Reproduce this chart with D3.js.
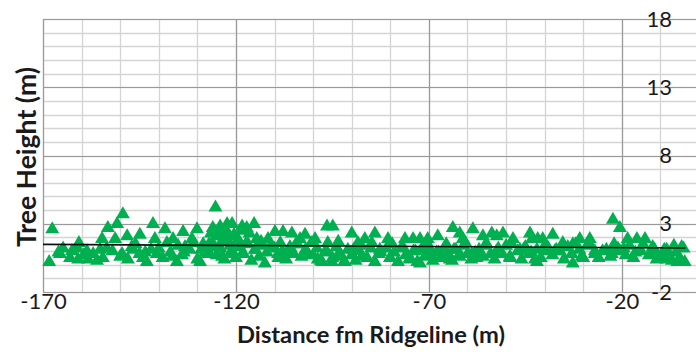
<!DOCTYPE html>
<html>
<head>
<meta charset="utf-8">
<script src="https://cdn.jsdelivr.net/npm/d3@7"></script>
<style>
  body { margin: 0; background: #fff; }
  svg text { font-family: Lato, "Open Sans", sans-serif; fill: #1a1a1a; }
</style>
</head>
<body>
<div id="chart"></div>
<script>
// tick labels
var xTicks = [-170, -120, -70, -20]
var yTicks = [-2, 3, 8, 13, 18]

// tree points (distance m, height m)
var distance = [
  -168.4, -167.6, -165.6, -164.8, -160.9, -160.7, -158.6, -158.3, -155.2, -154.7,
  -154.5, -153.2, -151.3, -150.8, -149.3, -148.2, -148.0, -146.7, -144.9, -144.1,
  -143.1, -141.5, -141.0, -140.5, -138.4, -137.9, -136.3, -135.3, -133.7, -133.2,
  -131.4, -130.1, -129.3, -128.5, -127.3,
  -125.3, -126.0, -124.1, -122.3, -121.0, -118.4, -117.2, -115.3, -126.2, -124.7,
  -122.8, -121.6, -119.5, -126.7, -123.6, -121.6, -118.4, -114.6, -115.1, -112.5,
  -111.7, -109.9, -107.8, -109.1, -105.5, -106.5, -103.4, -102.1, -101.3, -99.5,
  -98.8, -96.4, -94.9, -96.2, -93.8, -95.1, -91.8, -90.0, -88.4, -86.6,
  -84.8, -87.4, -97.7,
  -84.0, -80.6, -82.7, -80.1, -76.2, -74.1, -74.9, -72.3, -72.3, -70.3,
  -67.7, -69.7, -66.6, -64.6, -63.8, -62.0, -61.2, -62.0, -58.6, -58.9,
  -57.6, -56.0, -53.7, -52.4, -51.6, -50.8, -49.0, -48.2, -46.4, -43.8,
  -42.5, -41.8,
  -43.3, -42.0, -40.5, -39.9, -37.9, -37.4, -35.3, -32.7, -32.7, -30.9,
  -30.4, -28.3, -27.0, -22.3, -20.5, -22.6, -20.5, -18.5, -16.1, -14.0,
  -12.3, -11.0, -8.4, -8.4, -4.5, -5.6, -3.7,
  -166, -163, -161, -157, -156, -152, -150, -147, -145, -142,
  -139, -137, -135, -134, -132, -130, -128, -127, -125, -124,
  -123, -122, -121, -120, -119, -118, -117, -116, -115, -114,
  -113, -112, -110, -109, -108, -107, -106, -105, -104, -103,
  -102, -100, -99, -98, -97, -95, -94, -93, -92, -91,
  -90, -89, -88, -86, -85, -84, -83, -81, -80, -79,
  -78, -77, -76, -75, -74, -73, -72, -71, -70, -69,
  -68, -67, -66, -65, -64, -63, -62, -61, -60, -59,
  -57, -56, -55, -54, -53, -52, -51, -50, -49, -47,
  -46, -45, -44, -42, -41, -39, -38, -36, -35, -34,
  -33, -31, -30, -29, -27, -26, -24, -23, -21, -19,
  -18, -17, -15, -13, -12, -10, -9, -7, -6, -5, -4,
  -162.5, -159.5, -153.5, -149.5, -146, -143.5, -140, -136.5, -133.5, -131,
  -129, -126.5, -125.5, -124.5, -123.5, -122.5, -121.5, -120.5, -119.5, -118.5,
  -117.5, -116.5, -113.5, -111, -108.5, -104.5, -101.5, -100.5, -96.5, -93.5,
  -89.5, -87.5, -82.5, -79.5, -76.5, -73.5, -70.5, -67.5, -65.5, -63.5,
  -60.5, -58, -55.5, -52.5, -48.5, -45.5, -43.5, -40, -37, -32,
  -28.5, -25, -22, -19.5, -16.5, -14.5, -11.5, -8, -6.5
]
var height = [
  0.3, 2.7, 0.9, 1.3, 0.5, 1.7, 1.1, 0.5, 1.2, 2.0,
  0.6, 2.8, 2.0, 3.1, 3.8, 2.2, 0.5, 1.2, 2.3, 0.6,
  0.3, 3.1, 2.0, 0.9, 2.7, 1.7, 2.0, 0.3, 2.5, 1.4,
  2.0, 2.7, 0.3, 1.6, 0.9,
  4.3, 2.8, 2.9, 3.1, 3.1, 2.9, 2.8, 3.1, 1.7, 2.2,
  2.0, 2.2, 2.0, 0.9, 0.7, 0.9, 0.9, 2.0, 1.2, 0.2,
  2.0, 2.5, 2.5, 0.9, 2.4, 0.9, 2.0, 2.3, 0.9, 2.0,
  0.5, 2.9, 2.9, 1.7, 0.7, 0.3, 0.3, 2.4, 1.7, 2.0,
  1.7, 0.7, 0.3,
  2.4, 2.0, 1.2, 0.6, 2.0, 2.0, 0.6, 0.2, 2.0, 2.0,
  2.2, 0.9, 0.7, 0.5, 2.8, 2.4, 2.0, 0.9, 2.7, 0.9,
  0.6, 2.2, 2.4, 2.2, 0.9, 2.4, 0.6, 2.0, 1.2, 2.4,
  0.5, 2.0,
  2.0, 0.3, 2.0, 1.1, 2.3, 1.1, 1.7, 1.6, 0.2, 2.0,
  0.7, 2.0, 1.1, 3.4, 2.8, 0.9, 1.1, 2.0, 2.0, 2.0,
  0.9, 0.5, 1.2, 0.5, 1.4, 0.3, 0.3,
  1.0, 0.6, 1.3, 0.9, 0.4, 1.1, 0.7, 1.4, 0.9, 1.2,
  0.6, 1.0, 1.5, 0.8, 1.2, 0.5, 1.0, 1.6, 0.8, 1.3,
  0.5, 1.8, 1.0, 0.6, 1.4, 0.9, 1.7, 0.4, 1.2, 0.7,
  1.5, 1.0, 1.3, 0.6, 1.1, 0.5, 1.4, 0.9, 1.6, 0.7,
  1.2, 0.8, 1.3, 0.4, 1.0, 0.6, 1.4, 0.9, 0.3, 1.2,
  0.8, 0.4, 1.1, 0.6, 1.3, 0.3, 0.9, 1.3, 0.6, 1.0,
  0.3, 1.4, 0.8, 0.5, 1.1, 0.3, 1.2, 0.7, 1.4, 0.4,
  1.0, 0.6, 1.3, 0.9, 0.4, 1.2, 0.7, 1.5, 0.9, 0.5,
  1.2, 0.7, 1.6, 0.9, 0.5, 1.3, 0.9, 1.5, 0.7, 1.1,
  0.5, 1.4, 0.9, 1.2, 0.6, 1.3, 0.8, 1.1, 0.5, 1.4,
  0.9, 1.2, 0.6, 1.5, 0.9, 0.6, 1.2, 0.7, 1.3, 0.8,
  1.5, 0.6, 1.1, 0.8, 1.4, 0.7, 1.2, 0.4, 1.0, 0.6, 1.3,
  1.1, 0.8, 1.3, 0.9, 1.6, 1.0, 1.3, 0.7, 1.0, 1.7,
  1.2, 2.4, 1.4, 2.5, 1.9, 2.6, 1.5, 2.3, 1.8, 2.6,
  1.6, 2.4, 1.8, 1.5, 1.7, 1.6, 1.0, 1.7, 1.1, 1.8,
  1.2, 1.5, 1.0, 1.6, 1.3, 1.1, 1.7, 1.0, 1.6, 1.2,
  1.7, 1.0, 1.5, 1.1, 1.6, 1.2, 1.0, 1.5, 1.2, 1.6,
  1.7, 1.1, 1.6, 1.3, 1.0, 1.6, 1.2, 1.0, 1.5
]

// linear trend line end points
var trendX = [-170, -3.5]
var trendY = [1.49, 1.22]

var W = 696, H = 356
var margin = {top: 19, left: 43, bottom: 64}
var xMin = -170, xMax = 0, yMin = -2, yMax = 18

var svg = d3.select("#chart").append("svg")
    .attr("width", W)
    .attr("height", H)

var x = d3.scaleLinear().domain([xMin, xMax]).range([margin.left, 699])
var y = d3.scaleLinear().domain([yMin, yMax]).range([H - margin.bottom, margin.top])

// grid - minor lines every 10 m / 1 m, major at the labelled ticks
var minorX = d3.range(xMin, xMax + 1, 10)
var minorY = d3.range(yMin, yMax + 1, 1)

var grid = svg.append("g")
grid.selectAll(".mx").data(minorX).enter().append("line")
    .attr("x1", d => Math.round(x(d)) + 0.5).attr("x2", d => Math.round(x(d)) + 0.5)
    .attr("y1", y(yMin)).attr("y2", y(yMax))
    .style("stroke", "#d4d4d4").style("stroke-width", 1.3)
grid.selectAll(".my").data(minorY).enter().append("line")
    .attr("x1", x(xMin)).attr("x2", x(xMax))
    .attr("y1", d => Math.round(y(d)) + 0.5).attr("y2", d => Math.round(y(d)) + 0.5)
    .style("stroke", "#d4d4d4").style("stroke-width", 1.3)
grid.selectAll(".Mx").data(xTicks).enter().append("line")
    .attr("x1", d => Math.round(x(d)) + 0.5).attr("x2", d => Math.round(x(d)) + 0.5)
    .attr("y1", y(yMin)).attr("y2", y(yMax))
    .style("stroke", "#999").style("stroke-width", 1.2)
grid.selectAll(".My").data(yTicks).enter().append("line")
    .attr("x1", x(xMin)).attr("x2", x(xMax))
    .attr("y1", d => Math.round(y(d)) + 0.5).attr("y2", d => Math.round(y(d)) + 0.5)
    .style("stroke", "#999").style("stroke-width", 1.2)

// triangle markers
var tri = "M0,-6.5L7,5.5L-7,5.5Z"
svg.append("g").selectAll("path")
    .data(d3.zip(distance, height))
    .enter().append("path")
        .attr("d", tri)
        .attr("transform", d => "translate(" + x(d[0]) + "," + y(d[1]) + ")")
        .style("fill", "#00B050")

// trend line
svg.append("path")
    .datum(d3.zip(trendX, trendY))
    .attr("d", d3.line().x(d => x(d[0])).y(d => y(d[1])))
    .style("fill", "none")
    .style("stroke", "#111")
    .style("stroke-width", 1.6)

// axes (labels only, lines come from the grid)
var fmt = d => String(d)
var xAxis = svg.append("g")
    .attr("transform", "translate(0," + y(yMin) + ")")
    .call(d3.axisBottom(x).tickValues(xTicks).tickFormat(fmt).tickSize(0))
xAxis.select(".domain").remove()
xAxis.selectAll("text").attr("y", 17).attr("dy", 0).style("font-size", "22px")

var yAxis = svg.append("g")
    .attr("transform", "translate(" + x(0) + ",0)")
    .call(d3.axisLeft(y).tickValues(yTicks).tickFormat(fmt).tickSize(0).tickPadding(27))
yAxis.select(".domain").remove()
yAxis.selectAll("text").style("font-size", "22px")

// titles
var xt = svg.append("text")
    .attr("x", 371).attr("y", 343)
    .attr("text-anchor", "middle")
    .style("font-size", "22px").style("font-weight", "bold")
    .text("Distance fm Ridgeline (m)")
xt.style("font-size", (22 * 268 / xt.node().getComputedTextLength()) + "px")

var yt = svg.append("text")
    .attr("transform", "translate(36,157) rotate(-90)")
    .attr("text-anchor", "middle")
    .style("font-size", "22px").style("font-weight", "bold")
    .text("Tree Height (m)")
yt.style("font-size", (22 * 180 / yt.node().getComputedTextLength()) + "px")
</script>
</body>
</html>
